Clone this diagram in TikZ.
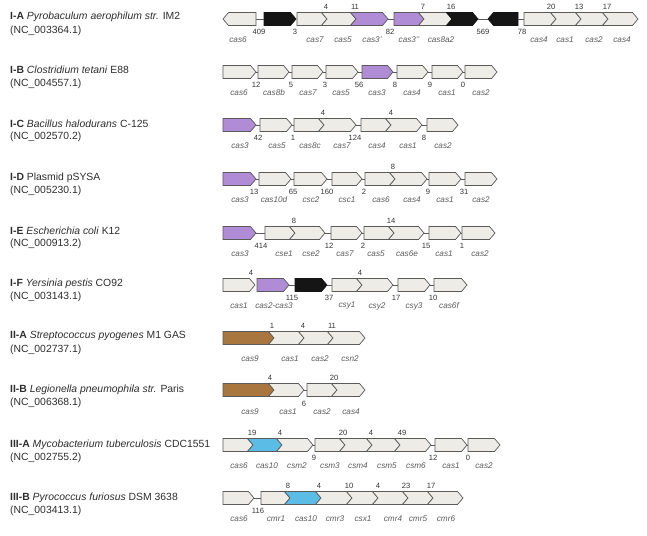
\documentclass[tikz,border=0pt]{standalone}
\usepackage{fontspec}
\setmainfont{Liberation Sans}
\definecolor{glight}{HTML}{EEECE6}
\definecolor{gline}{HTML}{5A5A5A}
\definecolor{gpurp}{HTML}{B08CD6}
\definecolor{gblack}{HTML}{151515}
\definecolor{gbrown}{HTML}{A8763E}
\definecolor{gcyan}{HTML}{5BBDE6}
\def\ha{6.5}
\def\hh{5.5}
% right-pointing gene, flat left end
\newcommand{\GR}[5]{%
  \draw[#2] (#3,#5-\ha) -- (#4-\hh,#5-\ha) -- (#4,#5) -- (#4-\hh,#5+\ha) -- (#3,#5+\ha) -- cycle;
  \coordinate (#1-w) at (#3,#5); \coordinate (#1-e) at (#4,#5);}
% right-pointing gene, notched left end (overlapping previous gene)
\newcommand{\GN}[5]{%
  \draw[#2] (#3-\hh,#5-\ha) -- (#4-\hh,#5-\ha) -- (#4,#5) -- (#4-\hh,#5+\ha) -- (#3-\hh,#5+\ha) -- (#3,#5) -- cycle;
  \coordinate (#1-w) at (#3,#5); \coordinate (#1-e) at (#4,#5);}
% left-pointing gene
\newcommand{\GL}[5]{%
  \draw[#2] (#3,#5) -- (#3+\hh,#5-\ha) -- (#4,#5-\ha) -- (#4,#5+\ha) -- (#3+\hh,#5+\ha) -- cycle;
  \coordinate (#1-w) at (#3,#5); \coordinate (#1-e) at (#4,#5);}
\tikzset{
  gl/.style={fill=glight,draw=gline,line width=0.7pt,line join=miter},
  gp/.style={fill=gpurp,draw=gline,line width=0.7pt},
  gk/.style={fill=gblack,draw=gblack,line width=0.7pt},
  gb/.style={fill=gbrown,draw=gline,line width=0.7pt},
  gc/.style={fill=gcyan,draw=gline,line width=0.7pt},
  link/.style={draw=gline,line width=0.7pt},
  gname/.style={inner sep=0pt,font=\fontsize{8.2}{9}\selectfont\itshape,text=black!64},
  gnum/.style={inner sep=0pt,font=\fontsize{7.6}{9}\selectfont,text=black!80},
  rowt/.style={anchor=west,inner sep=0pt,font=\fontsize{10.4}{12}\selectfont,text=black!82},
}
\begin{document}
\begin{tikzpicture}[x=1pt,y=-1pt]
\useasboundingbox (0,0) rectangle (647,535);
\fill[white] (0,0) rectangle (647,535);

% ---------------- row labels ----------------
\node[rowt] (tA) at (10,17) {\textbf{I-A} \textit{Pyrobaculum aerophilum str.} IM2};
\node[rowt] (nA) at (10,31) {(NC\_003364.1)};
\node[rowt] (tB) at (10,70) {\textbf{I-B} \textit{Clostridium tetani} E88};
\node[rowt] (nB) at (10,84) {(NC\_004557.1)};
\node[rowt] (tC) at (10,124) {\textbf{I-C} \textit{Bacillus halodurans} C-125};
\node[rowt] (nC) at (10,137) {(NC\_002570.2)};
\node[rowt] (tD) at (10,178) {\textbf{I-D} Plasmid pSYSA};
\node[rowt] (nD) at (10,191) {(NC\_005230.1)};
\node[rowt] (tE) at (10,231) {\textbf{I-E} \textit{Escherichia coli} K12};
\node[rowt] (nE) at (10,244) {(NC\_000913.2)};
\node[rowt] (tF) at (10,284) {\textbf{I-F} \textit{Yersinia pestis} CO92};
\node[rowt] (nF) at (10,297) {(NC\_003143.1)};
\node[rowt] (tG) at (10,336) {\textbf{II-A} \textit{Streptococcus pyogenes} M1 GAS};
\node[rowt] (nG) at (10,350) {(NC\_002737.1)};
\node[rowt] (tH) at (10,390) {\textbf{II-B} \textit{Legionella pneumophila str.} Paris};
\node[rowt] (nH) at (10,403) {(NC\_006368.1)};
\node[rowt] (tI) at (10,445) {\textbf{III-A} \textit{Mycobacterium tuberculosis} CDC1551};
\node[rowt] (nI) at (10,458) {(NC\_002755.2)};
\node[rowt] (tJ) at (10,498) {\textbf{III-B} \textit{Pyrococcus furiosus} DSM 3638};
\node[rowt] (nJ) at (10,511) {(NC\_003413.1)};

% ---------------- I-A (y=19) ----------------
\GL{a1}{gl}{223}{256}{19}
\GR{a2}{gk}{264}{296}{19}
\GR{a3}{gl}{297}{327}{19}
\GN{a4}{gl}{327}{356}{19}
\GN{a5}{gp}{356}{388}{19}
\GR{a6}{gp}{394}{424}{19}
\GN{a7}{gl}{424}{452}{19}
\GN{a8}{gk}{452}{478}{19}
\GL{a9}{gk}{488}{518}{19}
\GR{a10}{gl}{524}{556}{19}
\GN{a11}{gl}{556}{581}{19}
\GN{a12}{gl}{581}{608}{19}
\GN{a13}{gl}{608}{638}{19}
\draw[link] (a1-e) -- (a2-w);
\draw[link] (a5-e) -- (a6-w);
\draw[link] (a8-e) -- (a9-w);
\draw[link] (a9-e) -- (a10-w);
\node[gnum] (a-t1) at (326,6.5) {4};
\node[gnum] (a-t2) at (355,6.5) {11};
\node[gnum] (a-t3) at (423,6.5) {7};
\node[gnum] (a-t4) at (451,6.5) {16};
\node[gnum] (a-t5) at (551,6.5) {20};
\node[gnum] (a-t6) at (579,6.5) {13};
\node[gnum] (a-t7) at (607,6.5) {17};
\node[gnum] (a-b1) at (259,32) {409};
\node[gnum] (a-b2) at (295,32) {3};
\node[gnum] (a-b3) at (390,32) {82};
\node[gnum] (a-b4) at (483,32) {569};
\node[gnum] (a-b5) at (522,32) {78};
\node[gname] (a-n1) at (238,40) {cas6};
\node[gname] (a-n2) at (315,40) {cas7};
\node[gname] (a-n3) at (343,40) {cas5};
\node[gname] (a-n4) at (372,40) {cas3’};
\node[gname] (a-n5) at (409,40) {cas3’’};
\node[gname] (a-n6) at (441,40) {cas8a2};
\node[gname] (a-n7) at (539,40) {cas4};
\node[gname] (a-n8) at (565,40) {cas1};
\node[gname] (a-n9) at (594,40) {cas2};
\node[gname] (a-n10) at (622,40) {cas4};

% ---------------- I-B (y=72) ----------------
\GR{b1}{gl}{223}{256}{72}
\GR{b2}{gl}{258}{289}{72}
\GR{b3}{gl}{292}{323}{72}
\GR{b4}{gl}{326}{358}{72}
\GR{b5}{gp}{362}{393}{72}
\GR{b6}{gl}{397}{428}{72}
\GR{b7}{gl}{432}{463}{72}
\GR{b8}{gl}{465}{497}{72}
\draw[link] (b1-e) -- (b2-w);
\draw[link] (b2-e) -- (b3-w);
\draw[link] (b3-e) -- (b4-w);
\draw[link] (b4-e) -- (b5-w);
\draw[link] (b5-e) -- (b6-w);
\draw[link] (b6-e) -- (b7-w);
\draw[link] (b7-e) -- (b8-w);
\node[gnum] (b-b1) at (256,85) {12};
\node[gnum] (b-b2) at (291,85) {5};
\node[gnum] (b-b3) at (325,85) {3};
\node[gnum] (b-b4) at (359,85) {56};
\node[gnum] (b-b5) at (395,85) {8};
\node[gnum] (b-b6) at (430,85) {9};
\node[gnum] (b-b7) at (463,85) {0};
\node[gname] (b-n1) at (239,93) {cas6};
\node[gname] (b-n2) at (274,93) {cas8b};
\node[gname] (b-n3) at (308,93) {cas7};
\node[gname] (b-n4) at (341,93) {cas5};
\node[gname] (b-n5) at (377,93) {cas3};
\node[gname] (b-n6) at (412,93) {cas4};
\node[gname] (b-n7) at (447,93) {cas1};
\node[gname] (b-n8) at (481,93) {cas2};

% ---------------- I-C (y=125) ----------------
\GR{c1}{gp}{223}{256}{125}
\GR{c2}{gl}{260}{292}{125}
\GR{c3}{gl}{294}{324}{125}
\GN{c4}{gl}{324}{356}{125}
\GR{c5}{gl}{361}{391}{125}
\GN{c6}{gl}{391}{422}{125}
\GR{c7}{gl}{427}{458}{125}
\draw[link] (c1-e) -- (c2-w);
\draw[link] (c2-e) -- (c3-w);
\draw[link] (c4-e) -- (c5-w);
\draw[link] (c6-e) -- (c7-w);
\node[gnum] (c-t1) at (323,112.5) {4};
\node[gnum] (c-t2) at (391,112.5) {4};
\node[gnum] (c-b1) at (258,138) {42};
\node[gnum] (c-b2) at (293,138) {1};
\node[gnum] (c-b3) at (355,138) {124};
\node[gnum] (c-b4) at (424,138) {8};
\node[gname] (c-n1) at (240,146) {cas3};
\node[gname] (c-n2) at (277,146) {cas5};
\node[gname] (c-n3) at (310,146) {cas8c};
\node[gname] (c-n4) at (342,146) {cas7};
\node[gname] (c-n5) at (377,146) {cas4};
\node[gname] (c-n6) at (408,146) {cas1};
\node[gname] (c-n7) at (443,146) {cas2};

% ---------------- I-D (y=179) ----------------
\GR{d1}{gp}{223}{256}{179}
\GR{d2}{gl}{259}{291}{179}
\GR{d3}{gl}{294}{327}{179}
\GR{d4}{gl}{332}{362}{179}
\GR{d5}{gl}{365}{395}{179}
\GN{d6}{gl}{395}{427}{179}
\GR{d7}{gl}{429}{461}{179}
\GR{d8}{gl}{465}{497}{179}
\draw[link] (d1-e) -- (d2-w);
\draw[link] (d2-e) -- (d3-w);
\draw[link] (d3-e) -- (d4-w);
\draw[link] (d4-e) -- (d5-w);
\draw[link] (d6-e) -- (d7-w);
\draw[link] (d7-e) -- (d8-w);
\node[gnum] (d-t1) at (393,166.5) {8};
\node[gnum] (d-b1) at (254,192) {13};
\node[gnum] (d-b2) at (293,192) {65};
\node[gnum] (d-b3) at (327,192) {160};
\node[gnum] (d-b4) at (364,192) {2};
\node[gnum] (d-b5) at (428,192) {9};
\node[gnum] (d-b6) at (464,192) {31};
\node[gname] (d-n1) at (240,200) {cas3};
\node[gname] (d-n2) at (274,200) {cas10d};
\node[gname] (d-n3) at (311,200) {csc2};
\node[gname] (d-n4) at (347,200) {csc1};
\node[gname] (d-n5) at (381,200) {cas6};
\node[gname] (d-n6) at (412,200) {cas4};
\node[gname] (d-n7) at (445,200) {cas1};
\node[gname] (d-n8) at (481,200) {cas2};

% ---------------- I-E (y=233) ----------------
\GR{e1}{gp}{223}{256}{233}
\GR{e2}{gl}{265}{295}{233}
\GN{e3}{gl}{295}{325}{233}
\GR{e4}{gl}{331}{362}{233}
\GR{e5}{gl}{364}{394}{233}
\GN{e6}{gl}{394}{424}{233}
\GR{e7}{gl}{429}{461}{233}
\GR{e8}{gl}{462}{495}{233}
\draw[link] (e1-e) -- (e2-w);
\draw[link] (e3-e) -- (e4-w);
\draw[link] (e4-e) -- (e5-w);
\draw[link] (e6-e) -- (e7-w);
\draw[link] (e7-e) -- (e8-w);
\node[gnum] (e-t1) at (294,220.5) {8};
\node[gnum] (e-t2) at (391,220.5) {14};
\node[gnum] (e-b1) at (261,246) {414};
\node[gnum] (e-b2) at (329,246) {12};
\node[gnum] (e-b3) at (363,246) {2};
\node[gnum] (e-b4) at (426,246) {15};
\node[gnum] (e-b5) at (462,246) {1};
\node[gname] (e-n1) at (240,254) {cas3};
\node[gname] (e-n2) at (284,254) {cse1};
\node[gname] (e-n3) at (311,254) {cse2};
\node[gname] (e-n4) at (345,254) {cas7};
\node[gname] (e-n5) at (376,254) {cas5};
\node[gname] (e-n6) at (407,254) {cas6e};
\node[gname] (e-n7) at (444,254) {cas1};
\node[gname] (e-n8) at (480,254) {cas2};

% ---------------- I-F (y=285) ----------------
\GR{f1}{gl}{223}{255}{285}
\GR{f2}{gp}{257}{289}{285}
\GR{f3}{gk}{295}{327}{285}
\GR{f4}{gl}{332}{362}{285}
\GN{f5}{gl}{362}{393}{285}
\GR{f6}{gl}{398}{430}{285}
\GR{f7}{gl}{434}{467}{285}
\draw[link] (f2-e) -- (f3-w);
\draw[link] (f3-e) -- (f4-w);
\draw[link] (f5-e) -- (f6-w);
\draw[link] (f6-e) -- (f7-w);
\node[gnum] (f-t1) at (251,272.5) {4};
\node[gnum] (f-t2) at (360,272.5) {4};
\node[gnum] (f-b1) at (292,298) {115};
\node[gnum] (f-b2) at (329,298) {37};
\node[gnum] (f-b3) at (396,298) {17};
\node[gnum] (f-b4) at (433,298) {10};
\node[gname] (f-n1) at (239,306) {cas1};
\node[gname] (f-n2) at (274,306) {cas2-cas3};
\node[gname] (f-n3) at (347,306) {csy1};
\node[gname] (f-n4) at (377,306) {csy2};
\node[gname] (f-n5) at (414,306) {csy3};
\node[gname] (f-n6) at (449,306) {cas6f};

% ---------------- II-A (y=338) ----------------
\GR{g1}{gb}{223}{274}{338}
\GN{g2}{gl}{274}{304}{338}
\GN{g3}{gl}{304}{333}{338}
\GN{g4}{gl}{333}{365}{338}
\node[gnum] (g-t1) at (272,325.5) {1};
\node[gnum] (g-t2) at (303,325.5) {4};
\node[gnum] (g-t3) at (332,325.5) {11};
\node[gname] (g-n1) at (250,359) {cas9};
\node[gname] (g-n2) at (290,359) {cas1};
\node[gname] (g-n3) at (320,359) {cas2};
\node[gname] (g-n4) at (350,359) {csn2};

% ---------------- II-B (y=390) ----------------
\GR{h1}{gb}{223}{274}{390}
\GN{h2}{gl}{274}{304}{390}
\GR{h3}{gl}{307}{337}{390}
\GN{h4}{gl}{337}{365}{390}
\draw[link] (h2-e) -- (h3-w);
\node[gnum] (h-t1) at (270,377.5) {4};
\node[gnum] (h-t2) at (334,377.5) {20};
\node[gnum] (h-b1) at (304,404) {6};
\node[gname] (h-n1) at (250,412) {cas9};
\node[gname] (h-n2) at (288,412) {cas1};
\node[gname] (h-n3) at (322,412) {cas2};
\node[gname] (h-n4) at (351,412) {cas4};

% ---------------- III-A (y=445) ----------------
\GR{i1}{gl}{223}{253}{445}
\GN{i2}{gc}{253}{282}{445}
\GN{i3}{gl}{282}{313}{445}
\GR{i4}{gl}{315}{345}{445}
\GN{i5}{gl}{345}{372}{445}
\GN{i6}{gl}{372}{400}{445}
\GN{i7}{gl}{400}{431}{445}
\GR{i8}{gl}{435}{467}{445}
\GR{i9}{gl}{468}{500}{445}
\draw[link] (i3-e) -- (i4-w);
\draw[link] (i7-e) -- (i8-w);
\draw[link] (i8-e) -- (i9-w);
\node[gnum] (i-t1) at (252,432.5) {19};
\node[gnum] (i-t2) at (280,432.5) {4};
\node[gnum] (i-t3) at (343,432.5) {20};
\node[gnum] (i-t4) at (371,432.5) {4};
\node[gnum] (i-t5) at (402,432.5) {49};
\node[gnum] (i-b1) at (314,458) {9};
\node[gnum] (i-b2) at (433,458) {12};
\node[gnum] (i-b3) at (468,458) {0};
\node[gname] (i-n1) at (239,466) {cas6};
\node[gname] (i-n2) at (267,466) {cas10};
\node[gname] (i-n3) at (297,466) {csm2};
\node[gname] (i-n4) at (330,466) {csm3};
\node[gname] (i-n5) at (358,466) {csm4};
\node[gname] (i-n6) at (387,466) {csm5};
\node[gname] (i-n7) at (416,466) {csm6};
\node[gname] (i-n8) at (451,466) {cas1};
\node[gname] (i-n9) at (484,466) {cas2};

% ---------------- III-B (y=498) ----------------
\GR{j1}{gl}{223}{254}{498}
\GR{j2}{gl}{261}{290}{498}
\GN{j3}{gc}{290}{321}{498}
\GN{j4}{gl}{321}{352}{498}
\GN{j5}{gl}{352}{378}{498}
\GN{j6}{gl}{378}{408}{498}
\GN{j7}{gl}{408}{433}{498}
\GN{j8}{gl}{433}{463}{498}
\draw[link] (j1-e) -- (j2-w);
\node[gnum] (j-t1) at (288,485.5) {8};
\node[gnum] (j-t2) at (319,485.5) {4};
\node[gnum] (j-t3) at (349,485.5) {10};
\node[gnum] (j-t4) at (378,485.5) {4};
\node[gnum] (j-t5) at (406,485.5) {23};
\node[gnum] (j-t6) at (431,485.5) {17};
\node[gnum] (j-b1) at (258,511) {116};
\node[gname] (j-n1) at (239,519) {cas6};
\node[gname] (j-n2) at (276,519) {cmr1};
\node[gname] (j-n3) at (306,519) {cas10};
\node[gname] (j-n4) at (335,519) {cmr3};
\node[gname] (j-n5) at (363,519) {csx1};
\node[gname] (j-n6) at (393,519) {cmr4};
\node[gname] (j-n7) at (418,519) {cmr5};
\node[gname] (j-n8) at (446,519) {cmr6};
\end{tikzpicture}
\end{document}
